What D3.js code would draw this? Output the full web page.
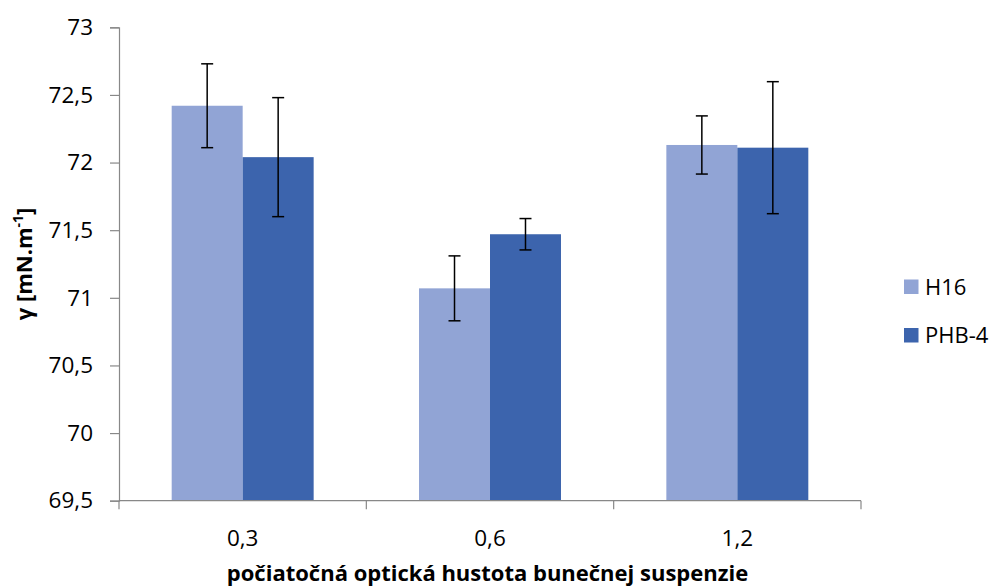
<!DOCTYPE html>
<html><head><meta charset="utf-8">
<script src="https://cdn.jsdelivr.net/npm/d3@7/dist/d3.min.js"></script>
<style>body{margin:0;background:#fff}svg{display:block}text{font-family:"Open Sans",sans-serif;fill:#000}</style>
</head><body><svg id="c" width="993" height="588"></svg>
<script>
const categories = ["0,3", "0,6", "1,2"];
const seriesNames = ["H16", "PHB-4"];
const h16Values = [72.42, 71.07, 72.13];
const phb4Values = [72.04, 71.47, 72.11];
const h16Errors = [0.31, 0.24, 0.215];
const phb4Errors = [0.44, 0.116, 0.488];
const yTicks = [69.5, 70, 70.5, 71, 71.5, 72, 72.5, 73];
const colors = ["#91A4D5", "#3C64AD"];

const svg = d3.select("#c");
const mLeft = 119, mRight = 861, mTop = 27.3, mBottom = 500.7;
const y = d3.scaleLinear().domain([69.5, 73]).range([mBottom, mTop]);
const x0 = d3.scaleBand().domain(categories).range([mLeft, mRight]).paddingInner(0.426).paddingOuter(0.213);
const x1 = d3.scaleBand().domain(seriesNames).range([0, x0.bandwidth()]);
const fmt = d => String(d).replace(".", ",");

// y axis
const ya = svg.append("g").attr("transform", `translate(${mLeft},0)`)
  .call(d3.axisLeft(y).tickValues(yTicks).tickFormat(fmt).tickSize(9).tickPadding(17));
ya.select(".domain").attr("stroke", "#888").attr("stroke-width", 1.2);
ya.selectAll(".tick line").attr("stroke", "#888").attr("stroke-width", 1.2);
ya.selectAll(".tick text").attr("font-size", 22.5).attr("fill", "#000").attr("font-family", '"Open Sans",sans-serif');

const data = categories.map((c, i) => ({c, vals: [
  {s: seriesNames[0], v: h16Values[i], e: h16Errors[i], col: colors[0]},
  {s: seriesNames[1], v: phb4Values[i], e: phb4Errors[i], col: colors[1]}]}));

const g = svg.append("g");
data.forEach(d => {
  d.vals.forEach(b => {
    const bx = x0(d.c) + x1(b.s);
    g.append("rect").attr("x", bx).attr("y", y(b.v)).attr("width", x1.bandwidth())
      .attr("height", y(69.5) - y(b.v)).attr("fill", b.col);
  });
});
// x axis
const xa = svg.append("g").attr("transform", `translate(0,${mBottom})`);
xa.append("line").attr("x1", mLeft).attr("x2", mRight).attr("stroke", "#888").attr("stroke-width", 1.2);
const step = x0.step();
[0,1,2,3].forEach(k => {
  const xx = mLeft + k * step;
  xa.append("line").attr("x1", xx).attr("x2", xx).attr("y1", 0).attr("y2", 8.5).attr("stroke", "#888").attr("stroke-width", 1.2);
});
categories.forEach(c => {
  xa.append("text").attr("x", x0(c) + x0.bandwidth() / 2).attr("y", 45).attr("text-anchor", "middle")
    .attr("font-size", 22.5).text(c);
});
// error bars
data.forEach(d => {
  d.vals.forEach(b => {
    const cx = x0(d.c) + x1(b.s) + x1.bandwidth() / 2;
    const eg = g.append("g").attr("stroke", "#000").attr("stroke-width", 1.5);
    eg.append("line").attr("x1", cx).attr("x2", cx).attr("y1", y(b.v + b.e)).attr("y2", y(b.v - b.e));
    eg.append("line").attr("x1", cx - 6).attr("x2", cx + 6).attr("y1", y(b.v + b.e)).attr("y2", y(b.v + b.e));
    eg.append("line").attr("x1", cx - 6).attr("x2", cx + 6).attr("y1", y(b.v - b.e)).attr("y2", y(b.v - b.e));
  });
});
// axis titles
svg.append("text").attr("x", 487.5).attr("y", 581).attr("text-anchor", "middle")
  .attr("font-size", 22).attr("font-weight", "bold").text("počiatočná optická hustota bunečnej suspenzie");
const yt = svg.append("text").attr("transform", "translate(32,264) rotate(-90)").attr("text-anchor", "middle")
  .attr("font-size", 22).attr("font-weight", "bold");
yt.append("tspan").text("γ [mN.m");
yt.append("tspan").attr("font-size", 14).attr("dy", -9).text("-1");
yt.append("tspan").attr("dy", 9).text("]");
// legend
const lg = svg.append("g");
seriesNames.forEach((s, i) => {
  const ly = 286.5 + i * 48.5;
  lg.append("rect").attr("x", 904).attr("y", ly - 7).attr("width", 14.5).attr("height", 14.5).attr("fill", colors[i]);
  lg.append("text").attr("x", 925).attr("y", ly + 8).attr("font-size", 22).text(s);
});
</script></body></html>
